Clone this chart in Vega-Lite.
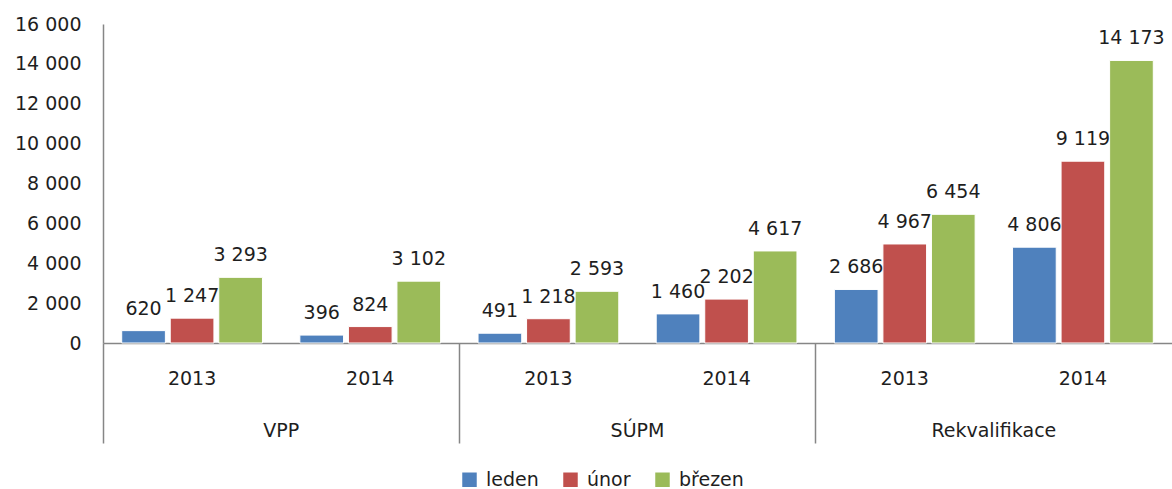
{
  "$schema": "https://vega.github.io/schema/vega-lite/v6.json",
  "width": 1069,
  "height": 319,
  "autosize": {"type": "none"},
  "padding": {"left": 103, "top": 24, "right": 0, "bottom": 146},
  "config": {
    "locale": {"number": {"decimal": ",", "thousands": " ", "grouping": [3], "currency": ["", " Kč"]}},
    "view": {"stroke": null},
    "font": "DejaVu Sans",
    "axis": {"labelFont": "DejaVu Sans", "labelFontSize": 19, "labelColor": "#1e1e1e", "grid": false, "domainColor": "#868686", "tickColor": "#868686", "title": null},
    "axisY": {"labelOverlap": false, "labelFlush": false}
  },
  "data": {
    "values": [
      {"program": "VPP", "year": "2013", "group": "VPP 2013", "month": "leden", "value": 620},
      {"program": "VPP", "year": "2013", "group": "VPP 2013", "month": "únor", "value": 1247},
      {"program": "VPP", "year": "2013", "group": "VPP 2013", "month": "březen", "value": 3293},
      {"program": "VPP", "year": "2014", "group": "VPP 2014", "month": "leden", "value": 396},
      {"program": "VPP", "year": "2014", "group": "VPP 2014", "month": "únor", "value": 824},
      {"program": "VPP", "year": "2014", "group": "VPP 2014", "month": "březen", "value": 3102},
      {"program": "SÚPM", "year": "2013", "group": "SÚPM 2013", "month": "leden", "value": 491},
      {"program": "SÚPM", "year": "2013", "group": "SÚPM 2013", "month": "únor", "value": 1218},
      {"program": "SÚPM", "year": "2013", "group": "SÚPM 2013", "month": "březen", "value": 2593},
      {"program": "SÚPM", "year": "2014", "group": "SÚPM 2014", "month": "leden", "value": 1460},
      {"program": "SÚPM", "year": "2014", "group": "SÚPM 2014", "month": "únor", "value": 2202},
      {"program": "SÚPM", "year": "2014", "group": "SÚPM 2014", "month": "březen", "value": 4617},
      {"program": "Rekvalifikace", "year": "2013", "group": "Rekvalifikace 2013", "month": "leden", "value": 2686},
      {"program": "Rekvalifikace", "year": "2013", "group": "Rekvalifikace 2013", "month": "únor", "value": 4967},
      {"program": "Rekvalifikace", "year": "2013", "group": "Rekvalifikace 2013", "month": "březen", "value": 6454},
      {"program": "Rekvalifikace", "year": "2014", "group": "Rekvalifikace 2014", "month": "leden", "value": 4806},
      {"program": "Rekvalifikace", "year": "2014", "group": "Rekvalifikace 2014", "month": "únor", "value": 9119},
      {"program": "Rekvalifikace", "year": "2014", "group": "Rekvalifikace 2014", "month": "březen", "value": 14173}
    ]
  },
  "layer": [
    {
      "mark": {"type": "bar", "stroke": "white", "strokeWidth": 1},
      "encoding": {
        "x": {"field": "group", "type": "nominal", "sort": ["VPP 2013", "VPP 2014", "SÚPM 2013", "SÚPM 2014", "Rekvalifikace 2013", "Rekvalifikace 2014"], "scale": {"type": "band", "paddingInner": 0.21, "paddingOuter": 0.105},
          "axis": {"orient": "bottom", "labelExpr": "split(datum.value, ' ')[1]", "ticks": false, "tickSize": 0, "labelPadding": 26, "labelAngle": 0, "domainWidth": 1.5}},
        "xOffset": {"field": "month", "type": "nominal", "sort": ["leden", "únor", "březen"], "scale": {"paddingInner": 0.1, "paddingOuter": 0}},
        "y": {"field": "value", "type": "quantitative", "scale": {"domain": [0, 16000], "nice": false},
          "axis": {"values": [0, 2000, 4000, 6000, 8000, 10000, 12000, 14000, 16000], "tickCount": 20, "format": ",d", "ticks": false, "tickSize": 0, "labelPadding": 22, "domainWidth": 1.5, "labelOverlap": false}},
        "color": {"field": "month", "type": "nominal", "sort": ["leden", "únor", "březen"],
          "scale": {"domain": ["leden", "únor", "březen"], "range": ["#4F81BD", "#C0504D", "#9BBB59"]},
          "legend": {"orient": "none", "legendX": 357, "legendY": 446, "direction": "horizontal", "title": null, "symbolType": "square", "symbolSize": 210, "symbolStrokeWidth": 0, "labelFontSize": 19, "labelFont": "DejaVu Sans", "labelColor": "#1e1e1e", "labelOffset": 7, "columnPadding": 22, "padding": 0}}
      }
    },
    {
      "mark": {"type": "text", "fontSize": 19, "font": "DejaVu Sans", "color": "#1e1e1e", "baseline": "alphabetic", "align": "center", "dy": -16},
      "encoding": {
        "x": {"field": "group", "type": "nominal", "sort": ["VPP 2013", "VPP 2014", "SÚPM 2013", "SÚPM 2014", "Rekvalifikace 2013", "Rekvalifikace 2014"], "scale": {"type": "band", "paddingInner": 0.21, "paddingOuter": 0.105}, "axis": null},
        "xOffset": {"field": "month", "type": "nominal", "sort": ["leden", "únor", "březen"], "scale": {"paddingInner": 0.1, "paddingOuter": 0}},
        "y": {"field": "value", "type": "quantitative"},
        "text": {"field": "value", "type": "quantitative", "format": ",d"}
      }
    },
    {
      "mark": {"type": "point", "opacity": 0},
      "encoding": {
        "x": {"field": "program", "type": "nominal", "sort": ["VPP", "SÚPM", "Rekvalifikace"], "scale": {"type": "band", "paddingInner": 0, "paddingOuter": 0},
          "axis": {"orient": "bottom", "domain": false, "ticks": true, "tickSize": 100, "tickWidth": 1.5, "bandPosition": 0, "labelPadding": -22, "labelAngle": 0}}
      }
    }
  ],
  "resolve": {"scale": {"x": "independent"}, "axis": {"x": "independent"}}
}
